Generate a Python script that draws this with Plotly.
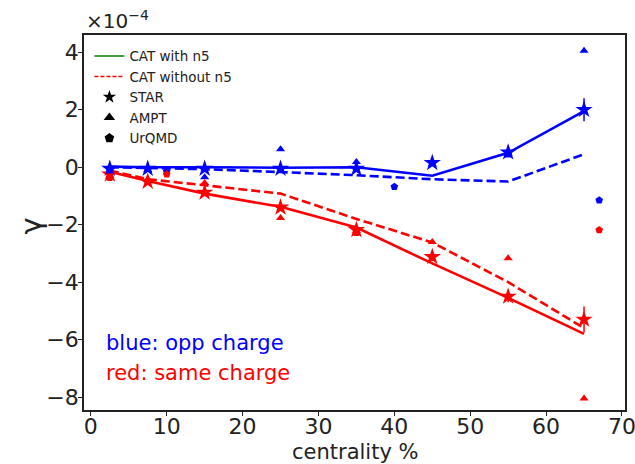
import plotly.graph_objects as go

# Centrality bins (%)
cent = [2.5, 7.5, 15, 25, 35, 45, 55, 65]

# CAT model curves (units of 1e-4)
cat_n5_opp = [0.02, 0.0, 0.0, -0.02, 0.0, -0.3, 0.5, 1.95]
cat_n5_same = [-0.16, -0.48, -0.92, -1.38, -2.1, -3.35, -4.55, -5.8]
cat_non5_opp = [0.0, -0.02, -0.07, -0.17, -0.28, -0.42, -0.5, 0.45]
cat_non5_same = [-0.12, -0.42, -0.63, -0.92, -1.8, -2.62, -4.0, -5.6]

# STAR data with uncertainties
star_opp = [-0.05, -0.05, -0.05, -0.05, -0.05, 0.15, 0.52, 2.0]
star_opp_err = [0.08, 0.08, 0.1, 0.1, 0.1, 0.1, 0.15, 0.4]
star_same = [-0.25, -0.5, -0.88, -1.4, -2.18, -3.12, -4.5, -5.3]
star_same_err = [0.05, 0.05, 0.06, 0.08, 0.1, 0.15, 0.2, 0.45]

# AMPT
ampt_opp = [-0.15, -0.1, -0.35, 0.62, 0.18, 0.1, 0.48, 4.05]
ampt_same = [-0.3, -0.42, -0.55, -1.77, -2.22, -2.6, -3.17, -8.05]

# UrQMD
urqmd_opp_x = [2.5, 10, 40, 55, 67]
urqmd_opp = [-0.1, -0.15, -0.68, 0.45, -1.15]
urqmd_same_x = [2.5, 10, 35, 67]
urqmd_same = [-0.37, -0.25, -2.28, -2.19]

y_ticks = [-8, -6, -4, -2, 0, 2, 4]
x_ticks = [0, 10, 20, 30, 40, 50, 60, 70]

BLUE = "#0000ff"
RED = "#ff0000"
INK = "#222222"
FONT = "DejaVu Sans"
DASH = "9px,4px"

fig = go.Figure()

def line(y, color, dash):
    fig.add_trace(go.Scatter(x=cent, y=y, mode="lines", showlegend=False,
                             line=dict(color=color, width=2.6, dash=dash)))

line(cat_n5_opp, BLUE, "solid")
line(cat_non5_opp, BLUE, DASH)
line(cat_n5_same, RED, "solid")
line(cat_non5_same, RED, DASH)

for y, err, color in [(star_opp, star_opp_err, BLUE), (star_same, star_same_err, RED)]:
    fig.add_trace(go.Scatter(
        x=cent, y=y, mode="markers", showlegend=False,
        marker=dict(symbol="star", size=13, color=color, line=dict(width=0)),
        error_y=dict(type="data", array=err, color=color, thickness=1.5, width=0)))

for y, color in [(ampt_opp, BLUE), (ampt_same, RED)]:
    fig.add_trace(go.Scatter(x=cent, y=y, mode="markers", showlegend=False,
                             marker=dict(symbol="triangle-up", size=8, color=color)))

for x, y, color in [(urqmd_opp_x, urqmd_opp, BLUE), (urqmd_same_x, urqmd_same, RED)]:
    fig.add_trace(go.Scatter(x=x, y=y, mode="markers", showlegend=False,
                             marker=dict(symbol="pentagon", size=8, color=color)))

# Legend entries
fig.add_trace(go.Scatter(x=[None], y=[None], mode="lines", name="CAT with n5",
                         line=dict(color="green", width=1.5)))
fig.add_trace(go.Scatter(x=[None], y=[None], mode="lines", name="CAT without n5",
                         line=dict(color=RED, width=1.5, dash="4px,2px")))
fig.add_trace(go.Scatter(x=[None], y=[None], mode="markers", name="STAR",
                         marker=dict(symbol="star", size=10, color="black")))
fig.add_trace(go.Scatter(x=[None], y=[None], mode="markers", name="AMPT",
                         marker=dict(symbol="triangle-up", size=10, color="black")))
fig.add_trace(go.Scatter(x=[None], y=[None], mode="markers", name="UrQMD",
                         marker=dict(symbol="pentagon", size=10, color="black")))

axis_common = dict(showline=True, linecolor=INK, linewidth=1.6, mirror=True,
                   ticks="outside", ticklen=4, tickwidth=1.2, tickcolor=INK,
                   showgrid=False, zeroline=False, automargin=False,
                   ticklabeloverflow="allow",
                   tickfont=dict(family=FONT, size=22, color=INK))

fig.update_xaxes(range=[-0.9, 70.4], tickvals=x_ticks, ticklabelstandoff=-8,
                 **axis_common)
fig.update_yaxes(range=[-8.45, 4.6], tickvals=y_ticks, ticklabelstandoff=-5,
                 ticktext=[str(v).replace("-", "\u2212") for v in y_ticks],
                 **axis_common)

# Axis titles
fig.add_annotation(x=0.5, y=0, xref="paper", yref="paper", yanchor="middle",
                   yshift=-42, text="centrality %", showarrow=False,
                   font=dict(family=FONT, size=21, color=INK))
fig.add_annotation(x=0, y=0.5, xref="paper", yref="paper", xanchor="center",
                   xshift=-54, yshift=-4, text="\u03b3", textangle=-90, showarrow=False,
                   font=dict(family=FONT, size=29, color=INK))

# Offset text for the y axis scale
fig.add_annotation(x=0, y=1, xref="paper", yref="paper", xanchor="left", yanchor="bottom",
                   text="\u00d710<sup>\u22124</sup>", showarrow=False, yshift=0,
                   font=dict(family=FONT, size=20, color=INK))

fig.add_annotation(x=1.8, y=-6.12, text="blue: opp charge", showarrow=False,
                   xanchor="left", font=dict(family=FONT, size=21, color=BLUE))
fig.add_annotation(x=1.8, y=-7.17, text="red: same charge", showarrow=False,
                   xanchor="left", font=dict(family=FONT, size=21, color=RED))

fig.update_layout(
    width=635, height=464,
    margin=dict(l=84, r=10, t=35, b=54),
    paper_bgcolor="white", plot_bgcolor="white",
    legend=dict(x=0.01, y=0.985, xanchor="left", yanchor="top",
                bgcolor="rgba(255,255,255,0)", font=dict(family=FONT, size=13.5, color=INK),
                itemwidth=30, tracegroupgap=0),
)

fig.write_html("out.html")
